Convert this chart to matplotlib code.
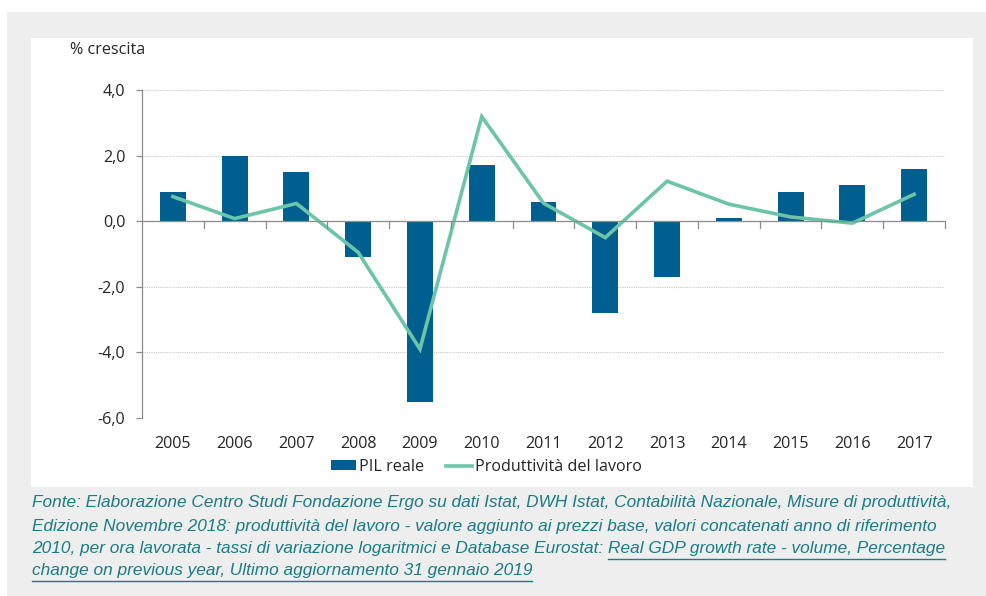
import matplotlib
matplotlib.use("Agg")
import matplotlib.pyplot as plt
from matplotlib.patches import Rectangle
from matplotlib.lines import Line2D

years = ["2005", "2006", "2007", "2008", "2009", "2010", "2011", "2012", "2013", "2014", "2015", "2016", "2017"]
pil_reale = [0.9, 2.0, 1.5, -1.1, -5.5, 1.7, 0.6, -2.8, -1.7, 0.1, 0.9, 1.1, 1.6]
produttivita = [0.75, 0.08, 0.54, -0.95, -3.9, 3.19, 0.55, -0.5, 1.22, 0.52, 0.13, -0.06, 0.82]
yticks = [4.0, 2.0, 0.0, -2.0, -4.0, -6.0]
ytick_labels = ["4,0", "2,0", "0,0", "-2,0", "-4,0", "-6,0"]

BAR = "#005f8f"
LINE = "#6cc4a9"
TXT = "#262626"
CAP = "#1a7c84"

W, H = 987, 596
fig = plt.figure(figsize=(W / 100, H / 100), dpi=100)
fig.patch.set_facecolor("white")

def fx(px):
    return px / W

def fy(py):
    return 1 - py / H

# grey outer panel and white inner panel
fig.patches.append(Rectangle((fx(7), fy(596)), fx(987 - 7), (596 - 12) / H,
                             transform=fig.transFigure, facecolor="#edeeed", edgecolor="none", zorder=-2))
fig.patches.append(Rectangle((fx(31), fy(487)), fx(973 - 31), (487 - 38) / H,
                             transform=fig.transFigure, facecolor="white", edgecolor="none", zorder=-1))

font = "Open Sans"
fs = 11.6
ax = fig.add_axes([fx(142), fy(418), fx(945 - 142), (418 - 90) / H])
ax.set_zorder(2)
ax.set_facecolor("none")
x = list(range(len(years)))
ax.bar(x, pil_reale, width=0.42, color=BAR, zorder=3, label="PIL reale")
ax.plot(x, produttivita, color=LINE, lw=2.6, zorder=4, solid_joinstyle="miter", label="Produttività del lavoro")

ax.set_xlim(-0.5, len(years) - 0.5)
ax.set_ylim(-6, 4)
ax.set_yticks(yticks)
ax.set_yticklabels(ytick_labels, fontfamily=font, fontsize=fs, color=TXT)
ax.yaxis.grid(True, color="#c8c8c8", linestyle=(0, (1, 1)), lw=0.8, zorder=0)
for s in ["top", "right", "bottom"]:
    ax.spines[s].set_visible(False)
ax.spines["left"].set_color("#8c8c8c")
ax.spines["left"].set_linewidth(0.9)
ax.tick_params(axis="y", length=4, width=0.9, color="#8c8c8c", pad=8)
ax.tick_params(axis="x", length=0, pad=13)
ax.set_xticks(x)
ax.set_xticklabels(years, fontfamily=font, fontsize=fs, color=TXT)

# zero line with category separators
ax.axhline(0, color="#8c8c8c", lw=0.9, zorder=5)
for b in range(1, len(years) + 1):
    ax.plot([b - 0.5, b - 0.5], [0, -0.2], color="#8c8c8c", lw=0.9, zorder=5, clip_on=False)

fig.text(fx(70), fy(50), "% crescita", fontfamily=font, fontsize=fs, color=TXT, va="center", ha="left")

handles = [Rectangle((0, 0), 1, 1, facecolor=BAR), Line2D([0], [0], color=LINE, lw=2.6)]
fig.legend(handles, ["PIL reale", "Produttività del lavoro"], loc="center", bbox_to_anchor=(fx(486), fy(467)),
           ncol=2, frameon=False, prop={"family": font, "size": fs}, handlelength=1.6, handleheight=0.6,
           handletextpad=0.15, columnspacing=1.4, labelcolor=TXT)

cap_font = ["Liberation Sans", "DejaVu Sans"]
cap_size = 12.4
lines = [
    "Fonte: Elaborazione Centro Studi Fondazione Ergo su dati Istat, DWH Istat, Contabilità Nazionale, Misure di produttività,",
    "Edizione Novembre 2018: produttività del lavoro - valore aggiunto ai prezzi base, valori concatenati anno di riferimento",
    "2010, per ora lavorata - tassi di variazione logaritmici e Database Eurostat: ",
]
ys = [503, 526, 549, 571]
for t, yy in zip(lines, ys):
    fig.text(fx(32), fy(yy), t, fontfamily=cap_font, fontstyle="italic", fontsize=cap_size, color=CAP, va="center")

# underlined link part
renderer = fig.canvas.get_renderer()
t3 = fig.texts[-1]
bb = t3.get_window_extent(renderer)
link1 = fig.text(bb.x1 / W, fy(549), "Real GDP growth rate - volume, Percentage",
                 fontfamily=cap_font, fontstyle="italic", fontsize=cap_size, color=CAP, va="center")
link2 = fig.text(fx(32), fy(571), "change on previous year, Ultimo aggiornamento 31 gennaio 2019",
                 fontfamily=cap_font, fontstyle="italic", fontsize=cap_size, color=CAP, va="center")
for lt, yy in [(link1, 549), (link2, 571)]:
    b = lt.get_window_extent(renderer)
    fig.add_artist(Line2D([b.x0 / W, b.x1 / W], [fy(yy + 10), fy(yy + 10)], color=CAP, lw=1.0,
                          transform=fig.transFigure))

fig.savefig("out.png", dpi=100)
